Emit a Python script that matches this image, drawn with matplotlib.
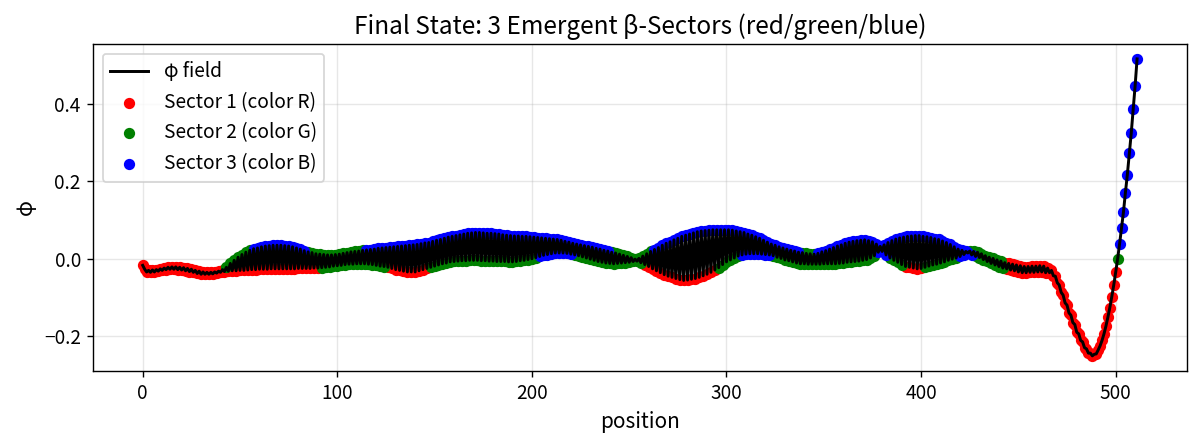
import matplotlib
matplotlib.use('Agg')
import matplotlib.pyplot as plt
import numpy as np

plt.rcParams['font.family'] = ['Noto Sans CJK SC', 'DejaVu Sans']

# phi at positions 0..43 (single smooth stretch)
phi_start = [
    -0.017, -0.027, -0.034, -0.030, -0.035, -0.029, -0.034, -0.028,
    -0.032, -0.026, -0.030, -0.024, -0.028, -0.022, -0.027, -0.021,
    -0.027, -0.021, -0.028, -0.022, -0.029, -0.023, -0.031, -0.025,
    -0.033, -0.027, -0.035, -0.030, -0.038, -0.032, -0.040, -0.034,
    -0.040, -0.035, -0.040, -0.035, -0.039, -0.034, -0.037, -0.032,
    -0.035, -0.028, -0.033, -0.022,
]

# phi at even positions 44..464 (lower side of the zigzag)
phi_even = [
    -0.032, -0.031, -0.031, -0.030, -0.030, -0.029, -0.028, -0.028,
    -0.027, -0.027, -0.027, -0.026, -0.026, -0.026, -0.026, -0.026,
    -0.026, -0.026, -0.025, -0.025, -0.025, -0.025, -0.024, -0.024,
    -0.023, -0.022, -0.021, -0.019, -0.018, -0.017, -0.015, -0.014,
    -0.014, -0.013, -0.013, -0.013, -0.014, -0.015, -0.017, -0.019,
    -0.020, -0.022, -0.025, -0.028, -0.030, -0.032, -0.034, -0.034,
    -0.034, -0.031, -0.028, -0.025, -0.022, -0.019, -0.016, -0.013,
    -0.011, -0.008, -0.007, -0.006, -0.005, -0.005, -0.004, -0.004,
    -0.004, -0.005, -0.005, -0.006, -0.006, -0.007, -0.007, -0.007,
    -0.008, -0.008, -0.007, -0.005, -0.004, -0.002, 0.000, 0.003,
    0.006, 0.009, 0.011, 0.013, 0.015, 0.015, 0.015, 0.014,
    0.012, 0.010, 0.008, 0.005, 0.002, -0.001, -0.004, -0.007,
    -0.009, -0.011, -0.012, -0.013, -0.012, -0.011, -0.010, -0.009,
    -0.007, -0.006, -0.010, -0.015, -0.020, -0.026, -0.031, -0.036,
    -0.041, -0.045, -0.048, -0.051, -0.054, -0.056, -0.055, -0.053,
    -0.051, -0.048, -0.044, -0.040, -0.035, -0.029, -0.023, -0.015,
    -0.008, -0.003, 0.002, 0.007, 0.010, 0.012, 0.013, 0.013,
    0.013, 0.012, 0.011, 0.010, 0.008, 0.004, 0.001, -0.003,
    -0.005, -0.008, -0.011, -0.013, -0.013, -0.014, -0.014, -0.014,
    -0.014, -0.013, -0.013, -0.013, -0.013, -0.012, -0.011, -0.009,
    -0.008, -0.007, -0.006, -0.004, -0.002, 0.002, 0.008, 0.017,
    0.019, 0.010, 0.002, -0.004, -0.009, -0.015, -0.020, -0.022,
    -0.024, -0.026, -0.025, -0.022, -0.019, -0.016, -0.014, -0.011,
    -0.008, -0.004, -0.001, 0.002, 0.006, 0.011, 0.015, 0.010,
    0.006, 0.003, -0.002, -0.007, -0.012, -0.016, -0.020, -0.024,
    -0.026, -0.029, -0.031, -0.034, -0.036, -0.036, -0.035, -0.035,
    -0.034, -0.034, -0.036,
]

# phi at odd positions 45..465 (upper side of the zigzag)
phi_odd = [
    -0.012, -0.004, 0.004, 0.011, 0.017, 0.022, 0.026, 0.028,
    0.031, 0.033, 0.034, 0.035, 0.035, 0.035, 0.034, 0.033,
    0.031, 0.028, 0.025, 0.021, 0.018, 0.016, 0.013, 0.012,
    0.011, 0.010, 0.010, 0.011, 0.012, 0.014, 0.016, 0.018,
    0.019, 0.020, 0.022, 0.023, 0.024, 0.025, 0.027, 0.028,
    0.029, 0.030, 0.031, 0.032, 0.033, 0.034, 0.035, 0.036,
    0.037, 0.039, 0.041, 0.042, 0.045, 0.048, 0.050, 0.053,
    0.056, 0.058, 0.060, 0.062, 0.064, 0.066, 0.067, 0.068,
    0.068, 0.067, 0.066, 0.066, 0.065, 0.064, 0.062, 0.061,
    0.060, 0.059, 0.059, 0.058, 0.058, 0.057, 0.056, 0.055,
    0.054, 0.053, 0.052, 0.051, 0.050, 0.048, 0.045, 0.043,
    0.040, 0.038, 0.036, 0.034, 0.032, 0.030, 0.027, 0.025,
    0.022, 0.020, 0.017, 0.015, 0.012, 0.009, 0.006, 0.003,
    -0.001, 0.001, 0.007, 0.013, 0.019, 0.024, 0.029, 0.035,
    0.040, 0.044, 0.049, 0.053, 0.058, 0.061, 0.064, 0.067,
    0.070, 0.072, 0.073, 0.074, 0.075, 0.075, 0.075, 0.075,
    0.075, 0.074, 0.072, 0.070, 0.068, 0.064, 0.061, 0.057,
    0.053, 0.048, 0.043, 0.038, 0.035, 0.031, 0.028, 0.025,
    0.022, 0.020, 0.017, 0.016, 0.014, 0.013, 0.012, 0.014,
    0.018, 0.021, 0.025, 0.029, 0.033, 0.036, 0.040, 0.043,
    0.045, 0.047, 0.048, 0.049, 0.047, 0.044, 0.038, 0.032,
    0.036, 0.042, 0.047, 0.051, 0.054, 0.056, 0.058, 0.059,
    0.060, 0.060, 0.058, 0.057, 0.055, 0.052, 0.050, 0.046,
    0.042, 0.037, 0.031, 0.025, 0.022, 0.019, 0.020, 0.019,
    0.017, 0.013, 0.008, 0.004, 0.001, -0.003, -0.006, -0.010,
    -0.012, -0.014, -0.016, -0.018, -0.020, -0.020, -0.019, -0.019,
    -0.018, -0.019, -0.024,
]

# phi at positions 466..511 (the dip and the steep rise)
phi_end = [
    -0.036, -0.030, -0.044, -0.045, -0.062, -0.068, -0.087, -0.094,
    -0.114, -0.120, -0.140, -0.146, -0.165, -0.170, -0.190, -0.194,
    -0.211, -0.215, -0.230, -0.233, -0.244, -0.244, -0.251, -0.247,
    -0.246, -0.236, -0.225, -0.211, -0.194, -0.174, -0.151, -0.126,
    -0.098, -0.068, -0.035, 0.000, 0.038, 0.080, 0.121, 0.171,
    0.218, 0.273, 0.325, 0.387, 0.448, 0.517,
]

# sector runs (sector, first position) for even and odd positions
# 0 = R, 1 = G, 2 = B
runs_even = [(0, 0), (1, 92), (0, 125), (1, 147), (2, 204), (1, 221),
             (0, 257), (1, 296), (2, 308), (1, 323), (2, 377), (1, 383),
             (0, 391), (1, 402), (2, 420), (1, 427), (0, 443), (2, 502)]
runs_odd = [(0, 0), (1, 43), (2, 56), (1, 84), (2, 115), (1, 241),
            (2, 262), (1, 339), (2, 347), (1, 424), (0, 443), (1, 501),
            (2, 503)]

sector_colors = ['red', 'green', 'blue']
sector_labels = ['Sector 1 (color R)', 'Sector 2 (color G)', 'Sector 3 (color B)']

# assemble the field
mid = np.empty(len(phi_even) + len(phi_odd))
mid[0::2] = phi_even
mid[1::2] = phi_odd
phi = np.concatenate([phi_start, mid, phi_end])
pos = np.arange(len(phi))


def runs_to_array(runs, n):
    out = np.zeros(n, dtype=int)
    for s, start in runs:
        out[start:] = s
    return out


sec_even = runs_to_array(runs_even, len(phi))
sec_odd = runs_to_array(runs_odd, len(phi))
sector = np.where(pos % 2 == 0, sec_even, sec_odd)

fig, ax = plt.subplots(figsize=(9.6, 3.56), dpi=125)
fig.subplots_adjust(left=0.0775, right=0.989, bottom=0.167, top=0.901)

ax.plot(pos, phi, color='black', lw=1.7, label='φ field', zorder=3)
for s in range(3):
    m = sector == s
    ax.scatter(pos[m], phi[m], s=30, color=sector_colors[s],
               label=sector_labels[s], zorder=2)

ax.set_title('Final State: 3 Emergent β-Sectors (red/green/blue)', fontsize=14)
ax.set_xlabel('position', fontsize=12)
ax.set_ylabel('φ', fontsize=12)
ax.tick_params(labelsize=11)
ax.grid(True, alpha=0.3)
ax.legend(loc='upper left', fontsize=11)

plt.savefig('out.png')
